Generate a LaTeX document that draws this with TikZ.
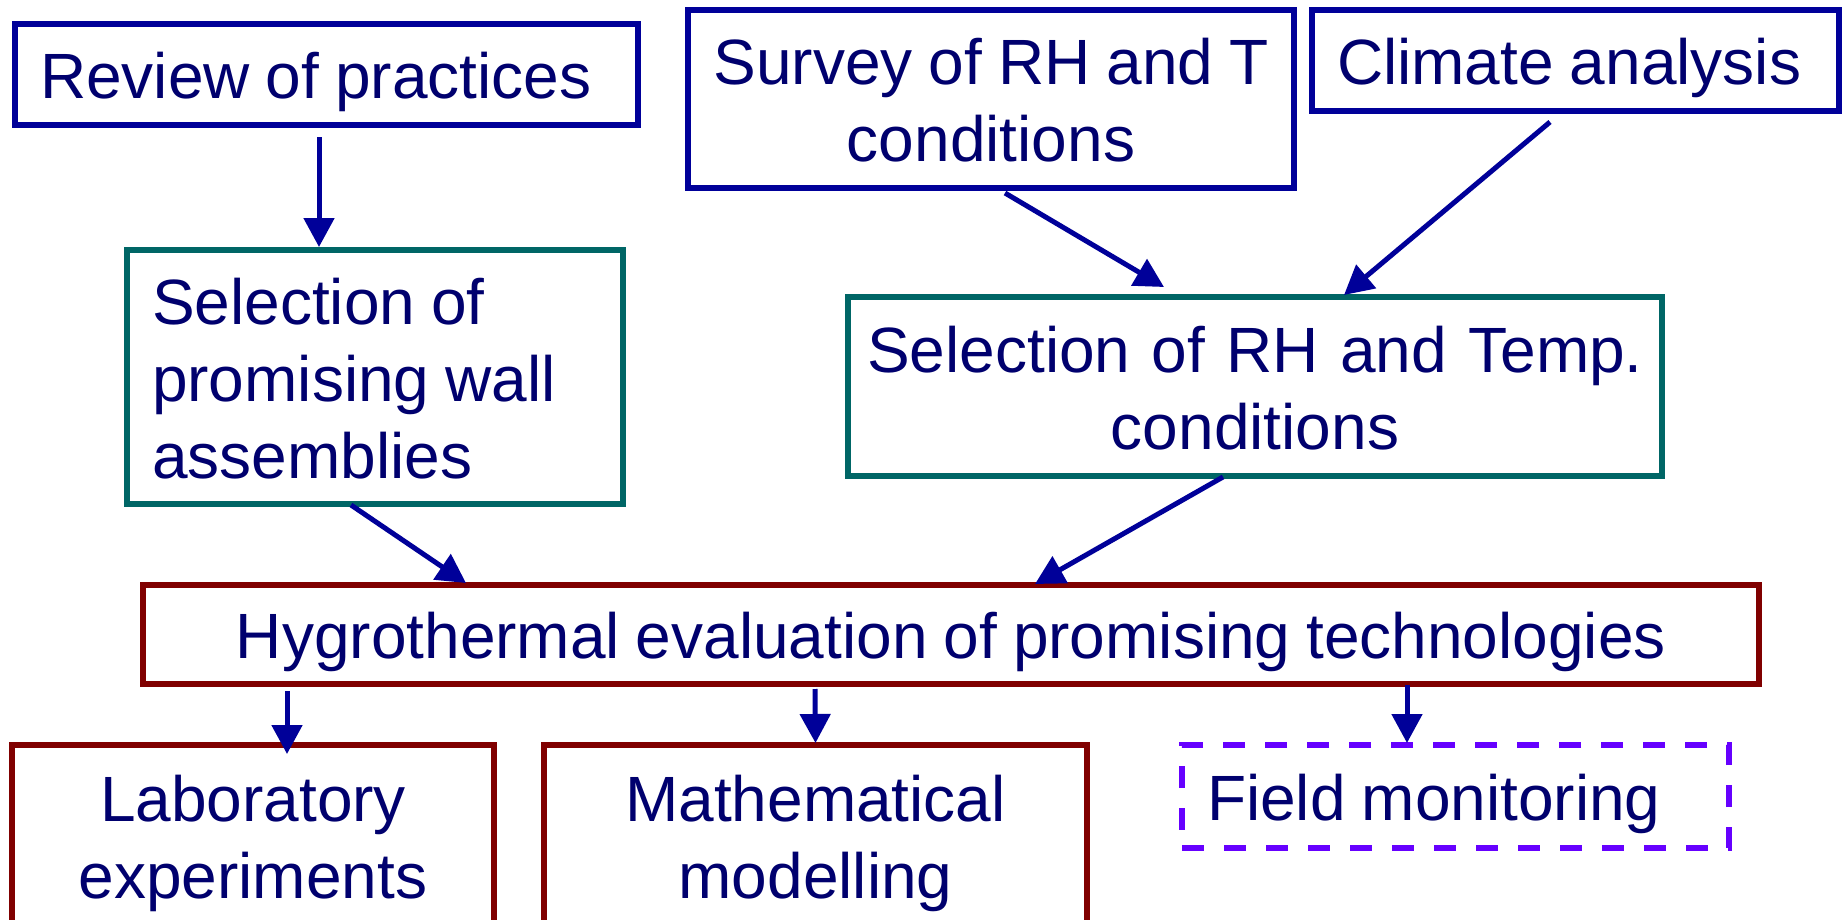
\documentclass[tikz,border=0pt]{standalone}
\usepackage{fontspec}
\setmainfont{Liberation Sans}
\usetikzlibrary{arrows.meta}
\definecolor{txtc}{RGB}{0,0,110}
\definecolor{bluec}{RGB}{0,0,153}
\definecolor{tealc}{RGB}{0,102,102}
\definecolor{redc}{RGB}{128,0,0}
\definecolor{purc}{RGB}{102,0,255}
\newcommand{\tightspaces}{\spaceskip=16pt\relax}
\begin{document}
\begin{tikzpicture}[x=1pt,y=-1pt,
  box/.style={draw, line width=5.5pt, inner ysep=0pt, outer sep=0pt, text=txtc,
    font=\fontsize{64}{77}\selectfont, text height=48pt, text depth=0pt},
  tight/.style={execute at begin node=\tightspaces},
  lbox/.style={box, tight, inner xsep=25pt, align=left},
  cbox/.style={box, inner xsep=5pt, align=center},
  two/.style={text depth=77pt},
  three/.style={text depth=154pt},
  bluebox/.style={draw=bluec},
  tealbox/.style={draw=tealc},
  redbox/.style={draw=redc},
  dashbox/.style={draw=purc, dash pattern=on 22pt off 20pt},
  arr/.style={draw=bluec, line width=5pt, -{Triangle[length=29pt,width=30pt]}}
]
\useasboundingbox (0,0) rectangle (1845,919);
\clip (0,0) rectangle (1845,919);
\fill[white] (0,0) rectangle (1845,919);

\node[lbox, bluebox, text width=573pt, minimum width=623pt, minimum height=101pt] (rev) at (326.5,74.5) {Review of practices};
\node[cbox, tight, bluebox, two, text width=596pt, minimum width=606pt, minimum height=178pt] (sur) at (991,99) {Survey of RH and T\\conditions};
\node[lbox, bluebox, text width=477pt, minimum width=527pt, minimum height=101pt] (cli) at (1575.5,60.5) {Climate analysis};
\node[lbox, tealbox, three, text width=446pt, minimum width=496pt, minimum height=254pt] (sw) at (375,377) {Selection of\\promising wall\\assemblies};
\node[cbox, tealbox, two, text width=804pt, minimum width=814pt, minimum height=179pt] (srh) at (1255,386.5) {Selection of RH and Temp.\\conditions};
\node[cbox, tight, redbox, text width=1606pt, minimum width=1616pt, minimum height=99pt] (hyg) at (951,634.5) {Hygrothermal evaluation of promising technologies};
\node[cbox, redbox, two, text width=472pt, minimum width=482pt, minimum height=181pt] (lab) at (253,835.5) {Laboratory\\experiments};
\node[cbox, redbox, two, text width=533pt, minimum width=543pt, minimum height=181pt] (mat) at (815.5,835.5) {Mathematical\\modelling};
\node[lbox, dashbox, text width=497pt, minimum width=547pt, minimum height=103pt] (fld) at (1455.5,796.5) {Field monitoring};

\path[arr] ([xshift=-7.5pt,yshift=-12pt]rev.south) -- ([xshift=-56pt,yshift=3pt]sw.north);
\path[arr] ([xshift=14pt,yshift=-5pt]sur.south) -- ([xshift=-91pt,yshift=10pt]srh.north);
\path[arr] ([xshift=-25.5pt,yshift=-11pt]cli.south) -- ([xshift=89pt,yshift=2pt]srh.north);
\path[arr] ([xshift=-24pt,yshift=-1pt]sw.south) -- ([xshift=-485pt,yshift=2pt]hyg.north);
\path[arr] ([xshift=-32pt,yshift=-1pt]srh.south) -- ([xshift=84pt,yshift=1pt]hyg.north);
\path[arr] ([xshift=144pt,yshift=-7pt]hyg.south west) -- ([xshift=34pt,yshift=-9pt]lab.north);
\path[arr] ([xshift=-136pt,yshift=-5pt]hyg.south) -- ([yshift=2pt]mat.north);
\path[arr] ([xshift=456pt,yshift=-1pt]hyg.south) -- ([xshift=-48.5pt,yshift=2pt]fld.north);
\end{tikzpicture}
\end{document}
